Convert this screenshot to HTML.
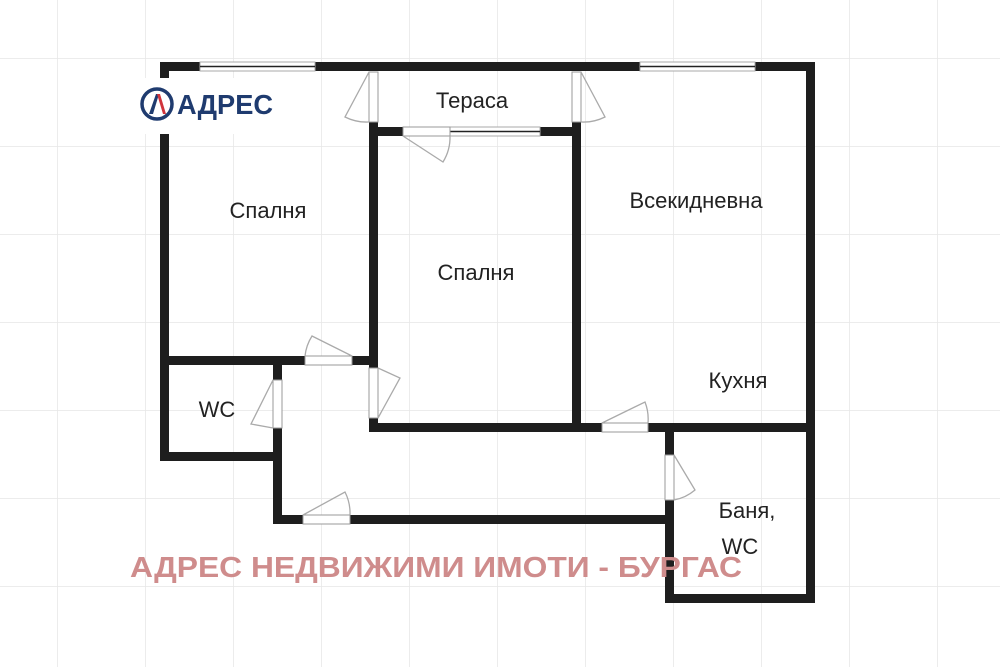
<!DOCTYPE html>
<html><head><meta charset="utf-8"><style>
html,body{margin:0;padding:0;background:#fff;}
svg{display:block;}
text{font-family:"Liberation Sans","DejaVu Sans",sans-serif;}
</style></head><body>
<svg width="1000" height="667" viewBox="0 0 1000 667" xmlns="http://www.w3.org/2000/svg">
<defs>
<pattern id="g" width="88" height="88" patternUnits="userSpaceOnUse" x="57" y="-30">
<path d="M0 0H88M0 0V88" stroke="#e6e6e6" stroke-width="1.5" fill="none"/>
</pattern>
</defs>
<rect width="1000" height="667" fill="#fff"/>
<rect width="1000" height="667" fill="url(#g)"/>

<g fill="#1e1e1e">
<rect x="160" y="62" width="655" height="9"/>
<rect x="160" y="62" width="9" height="398"/>
<rect x="806" y="62" width="9" height="540"/>
<rect x="369" y="122" width="9" height="246"/>
<rect x="369" y="418" width="9" height="14"/>
<rect x="572" y="122" width="9" height="302"/>
<rect x="369" y="127" width="212" height="9"/>
<rect x="160" y="356" width="218" height="9"/>
<rect x="160" y="452" width="122" height="9"/>
<rect x="273" y="356" width="9" height="167"/>
<rect x="369" y="423" width="446" height="9"/>
<rect x="273" y="515" width="401" height="9"/>
<rect x="665" y="423" width="9" height="179"/>
<rect x="665" y="594" width="150" height="9"/>
</g>

<g>
<rect x="200" y="62" width="115" height="9" fill="#fff" stroke="#aaa" stroke-width="1"/>
<line x1="200" y1="66.5" x2="315" y2="66.5" stroke="#222" stroke-width="1.5"/>
<rect x="640" y="62" width="115" height="9" fill="#fff" stroke="#aaa" stroke-width="1"/>
<line x1="640" y1="66.5" x2="755" y2="66.5" stroke="#222" stroke-width="1.5"/>
<rect x="450" y="127" width="90" height="9" fill="#fff" stroke="#aaa" stroke-width="1"/>
<line x1="450" y1="131.5" x2="540" y2="131.5" stroke="#222" stroke-width="1.5"/>
</g>

<g fill="#fff" stroke="#999" stroke-width="1">
<rect x="369" y="72" width="9" height="50"/>
<rect x="572" y="72" width="9" height="50"/>
<rect x="403" y="127" width="47" height="9"/>
<rect x="305" y="356" width="47" height="9"/>
<rect x="369" y="368" width="9" height="50"/>
<rect x="273" y="380" width="9" height="48"/>
<rect x="602" y="423" width="46" height="9"/>
<rect x="665" y="455" width="9" height="45"/>
<rect x="303" y="515" width="47" height="9"/>
</g>

<g fill="none" stroke="#aaa" stroke-width="1.3">
<path d="M369 72 L345 117 A48 48 0 0 0 369 122"/>
<path d="M581 72 L605 117 A48 48 0 0 1 581 122"/>
<path d="M403 136 L443 162 A47 47 0 0 0 450 136"/>
<path d="M352 356 L312 336 A47 47 0 0 0 305 356"/>
<path d="M378 368 L400 378 L378 418"/>
<path d="M273 428 L251 424 L273 380"/>
<path d="M602 423 L645 402 A47 47 0 0 1 648 423"/>
<path d="M674 455 L695 490 A45 45 0 0 1 674 500"/>
<path d="M303 515 L345 492 A47 47 0 0 1 350 515"/>
</g>

<rect x="132" y="78" width="155" height="56" fill="#fff"/>
<circle cx="157" cy="104" r="15" fill="none" stroke="#1f3b6f" stroke-width="3.5"/>
<path d="M149 114 L156 94 L159 94 L153 114 Z" fill="#1f3b6f"/>
<path d="M157 94 L160 94 L166 114 L163 114 Z" fill="#d0343c"/>
<text x="177" y="114" font-size="28" font-weight="bold" fill="#1f3b6f" textLength="96" lengthAdjust="spacingAndGlyphs">АДРЕС</text>

<g font-size="22" fill="#222" text-anchor="middle">
<text x="268" y="218">Спалня</text>
<text x="472" y="108">Тераса</text>
<text x="476" y="280">Спалня</text>
<text x="696" y="208">Всекидневна</text>
<text x="738" y="388">Кухня</text>
<text x="217" y="417">WC</text>
<text x="747" y="518">Баня,</text>
<text x="740" y="554">WC</text>
</g>

<text x="130" y="577" font-size="29" font-weight="bold" fill="#cf8c8c" textLength="612" lengthAdjust="spacingAndGlyphs">АДРЕС НЕДВИЖИМИ ИМОТИ - БУРГАС</text>
</svg>
</body></html>
